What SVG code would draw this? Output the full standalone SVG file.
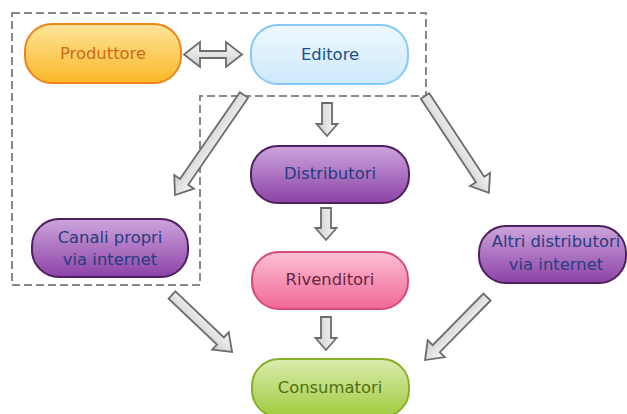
<svg xmlns="http://www.w3.org/2000/svg" width="627" height="414" viewBox="0 0 627 414">
<defs>
<linearGradient id="gOr" x1="0" y1="0" x2="0" y2="1"><stop offset="0" stop-color="#fde49a"/><stop offset="1" stop-color="#fbb828"/></linearGradient>
<linearGradient id="gBl" x1="0" y1="0" x2="0" y2="1"><stop offset="0" stop-color="#eef8fe"/><stop offset="1" stop-color="#cde9fb"/></linearGradient>
<linearGradient id="gPu" x1="0" y1="0" x2="0" y2="1"><stop offset="0" stop-color="#cda5dc"/><stop offset="1" stop-color="#8c42a6"/></linearGradient>
<linearGradient id="gPk" x1="0" y1="0" x2="0" y2="1"><stop offset="0" stop-color="#fcc0d6"/><stop offset="1" stop-color="#f06896"/></linearGradient>
<linearGradient id="gGr" x1="0" y1="0" x2="0" y2="1"><stop offset="0" stop-color="#dcedae"/><stop offset="1" stop-color="#a0ca3e"/></linearGradient>
<linearGradient id="gAr" x1="0" y1="0" x2="0" y2="1"><stop offset="0" stop-color="#f8f8f8"/><stop offset="1" stop-color="#cdcdcd"/></linearGradient>
<style>
text{font-family:"DejaVu Sans",Verdana,sans-serif;font-size:16.4px;text-anchor:middle}
.node{stroke-width:2}
.arr{fill:url(#gAr);stroke:#6c6c6c;stroke-width:1.8;stroke-linejoin:miter}
.dash{fill:none;stroke:#888;stroke-width:2;stroke-dasharray:8 4}
</style>
</defs>
<path class="dash" d="M12,13 H426 V96 H200 V285 H12 Z"/>
<g id="connectors">
<path class="arr" d="M0,0 L16,-12.5 V-3.5 H42 V-12.5 L58,0 L42,12.5 V3.5 H16 V12.5 Z" transform="translate(184,54.5)"/>
<path class="arr" d="M0,-5 H105.5 V-12 L121.5,0 L105.5,12 V5 H0 Z" transform="translate(244,95) rotate(124.6)"/>
<path class="arr" d="M0,-5 H21 V-10.5 L33,0 L21,10.5 V5 H0 Z" transform="translate(327,103) rotate(90)"/>
<path class="arr" d="M0,-5 H100 V-12 L116,0 L100,12 V5 H0 Z" transform="translate(425,96) rotate(56.6)"/>
<path class="arr" d="M0,-5 H20 V-10.5 L32,0 L20,10.5 V5 H0 Z" transform="translate(326,208) rotate(90)"/>
<path class="arr" d="M0,-5 H21 V-10.5 L33,0 L21,10.5 V5 H0 Z" transform="translate(326,317) rotate(90)"/>
<path class="arr" d="M0,-5 H66.8 V-12 L82.8,0 L66.8,12 V5 H0 Z" transform="translate(172,295) rotate(43.5)"/>
<path class="arr" d="M0,-5 H72.4 V-12 L88.4,0 L72.4,12 V5 H0 Z" transform="translate(487,297) rotate(134.5)"/>
</g>
<g id="produttore">
<rect class="node" x="25" y="24" width="156" height="59" rx="27" fill="url(#gOr)" stroke="#f0841a"/>
<text x="103" y="59" fill="#cf6a18">Produttore</text>
</g>
<g id="editore">
<rect class="node" x="251" y="25" width="157" height="59" rx="27" fill="url(#gBl)" stroke="#86c9f7"/>
<text x="330" y="60" fill="#1d4e8a">Editore</text>
</g>
<g id="distributori">
<rect class="node" x="251" y="146" width="158" height="57" rx="27" fill="url(#gPu)" stroke="#4f1f5e"/>
<text x="330" y="179" fill="#283c80">Distributori</text>
</g>
<g id="canali">
<rect class="node" x="32" y="219" width="156" height="58" rx="27" fill="url(#gPu)" stroke="#4f1f5e"/>
<text x="110" y="243" fill="#283c80">Canali propri</text>
<text x="110" y="265" fill="#283c80">via internet</text>
</g>
<g id="rivenditori">
<rect class="node" x="252" y="252" width="156" height="57" rx="27" fill="url(#gPk)" stroke="#d84a7a"/>
<text x="330" y="285" fill="#6a2444">Rivenditori</text>
</g>
<g id="altri">
<rect class="node" x="479" y="226" width="147" height="57" rx="27" fill="url(#gPu)" stroke="#4f1f5e"/>
<text x="556" y="247" fill="#283c80">Altri distributori</text>
<text x="556" y="270" fill="#283c80">via internet</text>
</g>
<g id="consumatori">
<rect class="node" x="252" y="359" width="157" height="58" rx="27" fill="url(#gGr)" stroke="#88b028"/>
<text x="330" y="393" fill="#4e7012">Consumatori</text>
</g>
</svg>
